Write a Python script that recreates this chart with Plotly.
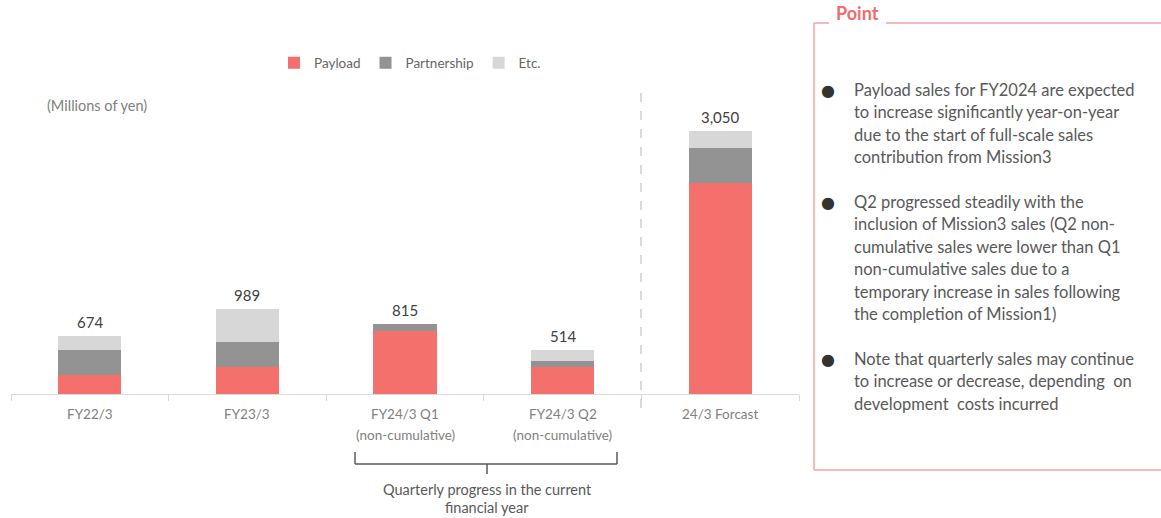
import plotly.graph_objects as go

# ---- data ----
categories = ["FY22/3", "FY23/3", "FY24/3 Q1<br>(non-cumulative)",
              "FY24/3 Q2<br>(non-cumulative)", "24/3 Forcast"]
payload = [220, 310, 735, 309, 2440]
partnership = [290, 290, 80, 70, 410]
etc = [164, 389, 0, 135, 200]
totals = [674, 989, 815, 514, 3050]

series_names = ["Payload", "Partnership", "Etc."]
colors = ["#F4706C", "#939393", "#D7D7D7"]

bullets = [
    ["Payload sales for FY2024 are expected",
     "to increase significantly year-on-year",
     "due to the start of full-scale sales",
     "contribution from Mission3"],
    ["Q2 progressed steadily with the",
     "inclusion of Mission3 sales (Q2 non-",
     "cumulative sales were lower than Q1",
     "non-cumulative sales due to a",
     "temporary increase in sales following",
     "the completion of Mission1)"],
    ["Note that quarterly sales may continue",
     "to increase or decrease, depending  on",
     "development  costs incurred"],
]

# ---- layout geometry (pixels) ----
W, H = 1161, 518
L, R = 11, 799          # plot area x extent
T, B = 80, 394          # plot area y extent (B = baseline)
UNITS_PER_PX = 11.58
YMAX = (B - T) * UNITS_PER_PX


def px(x):
    return (x - L) / (R - L)


def py(y):
    return (B - y) / (B - T)


FONT = "Lato, 'Open Sans', sans-serif"

fig = go.Figure()
for name, vals, col in zip(series_names, [payload, partnership, etc], colors):
    fig.add_trace(go.Bar(x=categories, y=vals, name=name, marker_color=col,
                         marker_line_width=0, hoverinfo="skip"))

annotations = []
for c, t in zip(categories, totals):
    annotations.append(dict(x=c, y=t, xref="x", yref="y", text=f"{t:,}",
                            showarrow=False, yanchor="bottom", yshift=3,
                            font=dict(size=15, color="#404040", family=FONT)))
    # category labels (drawn as annotations for wider line spacing)
    for i, part in enumerate(c.split("<br>")):
        annotations.append(dict(x=c, y=py(414 + i * 21), xref="x",
                                yref="paper", text=part, showarrow=False,
                                xanchor="center", yanchor="middle",
                                font=dict(size=13.5, color="#7f7f7f",
                                          family=FONT)))

annotations.append(dict(x=px(45), y=py(105), xref="paper", yref="paper",
                        text="(Millions of yen)", showarrow=False,
                        xanchor="left", yanchor="middle",
                        font=dict(size=14.5, color="#7f7f7f", family=FONT)))

annotations.append(dict(x=px(487), y=py(489), xref="paper", yref="paper",
                        text="Quarterly progress in the current", showarrow=False,
                        xanchor="center", yanchor="middle",
                        font=dict(size=14.5, color="#595959", family=FONT)))
annotations.append(dict(x=px(487), y=py(507), xref="paper", yref="paper",
                        text="financial year", showarrow=False,
                        xanchor="center", yanchor="middle",
                        font=dict(size=14.5, color="#595959", family=FONT)))

annotations.append(dict(x=px(857), y=py(13), xref="paper", yref="paper",
                        text="<b>Point</b>", showarrow=False,
                        xanchor="center", yanchor="middle",
                        font=dict(size=18, color="#F26B6B", family=FONT)))

starts = [90, 202, 359]
LINE = 22.4
for start, lines in zip(starts, bullets):
    annotations.append(dict(x=px(828), y=py(start), xref="paper", yref="paper",
                            text="●", showarrow=False, xanchor="center",
                            yanchor="middle",
                            font=dict(size=16, color="#333333",
                                      family="DejaVu Sans")))
    for i, ln in enumerate(lines):
        annotations.append(dict(x=px(852), y=py(start + i * LINE),
                                xref="paper", yref="paper", text=ln,
                                showarrow=False, xanchor="left",
                                yanchor="middle",
                                font=dict(size=16.5, color="#595959",
                                          family=FONT)))

shapes = []
# dashed separator
shapes.append(dict(type="line", xref="paper", yref="paper",
                   x0=px(641), x1=px(641), y0=py(93), y1=py(412),
                   line=dict(color="#d0d0d0", width=1.5, dash="dash")))
# bracket
bc = "#595959"
for (x0, y0, x1, y1) in [(355, 452, 355, 464), (617, 452, 617, 464),
                         (355, 464, 617, 464), (487, 464, 487, 474)]:
    shapes.append(dict(type="line", xref="paper", yref="paper",
                       x0=px(x0), x1=px(x1), y0=py(y0), y1=py(y1),
                       line=dict(color=bc, width=1.5)))
# Point box
pc = "#F4A3A3"
for (x0, y0, x1, y1) in [(814, 23, 814, 470), (814, 470, 1165, 470),
                         (814, 23, 829, 23), (886, 23, 1165, 23)]:
    shapes.append(dict(type="line", xref="paper", yref="paper",
                       x0=px(x0), x1=px(x1), y0=py(y0), y1=py(y1),
                       line=dict(color=pc, width=1.5)))

fig.update_layout(
    width=W, height=H, barmode="stack", bargap=0.6,
    margin=dict(l=L, r=W - R, t=T, b=H - B),
    paper_bgcolor="white", plot_bgcolor="white",
    font=dict(family=FONT, color="#7f7f7f"),
    showlegend=True,
    legend=dict(orientation="h", x=px(410), y=py(63), xanchor="center",
                yanchor="middle", font=dict(size=13.5, color="#666666"),
                itemwidth=30, traceorder="normal", bgcolor="rgba(0,0,0,0)"),
    xaxis=dict(showgrid=False, showline=True, linecolor="#d9d9d9",
               linewidth=1, ticks="outside", tickson="boundaries",
               ticklen=6, tickcolor="#d9d9d9", showticklabels=False),
    yaxis=dict(range=[0, YMAX], visible=False, showgrid=False),
    annotations=annotations, shapes=shapes,
)

fig.write_html("out.html")
